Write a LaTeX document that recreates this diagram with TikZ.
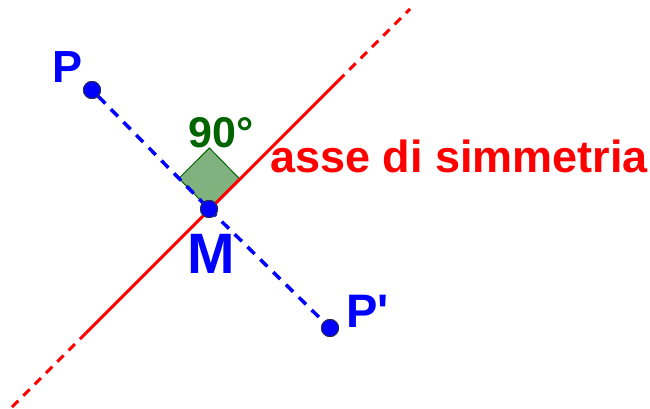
\documentclass[tikz,border=0pt]{standalone}
\usepackage{fontspec}
\usepackage{tikz}
\usepackage{xcolor}
\usetikzlibrary{calc}
\newfontfamily\figfont{Liberation Sans}
\definecolor{ptblue}{RGB}{0,0,255}
\definecolor{axisred}{RGB}{255,0,0}
\definecolor{angdark}{RGB}{0,100,0}
\definecolor{angfill}{RGB}{127,178,127}
\definecolor{dotrim}{RGB}{40,40,90}

\begin{document}
\begin{tikzpicture}[x=1pt, y=-1pt,
  dot/.style={circle, fill=ptblue, draw=dotrim, line width=1pt, minimum size=17pt, inner sep=0pt},
  seg/.style={ptblue, line width=3.5pt, dash pattern=on 10pt off 8pt},
  axisline/.style={axisred, line width=3pt},
  axisdash/.style={axisline, dash pattern=on 9pt off 7pt},
  ptlbl/.style={font=\figfont\bfseries\fontsize{45}{45}\selectfont, text=ptblue, inner sep=0pt, anchor=base west},
  anglbl/.style={font=\figfont\bfseries\fontsize{43}{43}\selectfont, text=angdark, inner sep=0pt, anchor=base west},
  axislbl/.style={font=\figfont\bfseries\fontsize{45}{45}\selectfont, text=axisred, inner sep=0pt, anchor=base west}
]
\useasboundingbox (0,0) rectangle (650,409);

% --- Points ---
\coordinate (m) at (209,209);
\coordinate (p) at (92,90);
\coordinate (pp) at (330,328);

% --- Right angle mark ---
\coordinate (sqa) at ($(m)!43pt!(p)$);
\coordinate (sqb) at ($(m)!43pt!(410,9)$);
\draw[angdark, fill=angfill, line width=1pt] (m) -- (sqa) -- ($(sqa)+(sqb)-(m)$) -- (sqb) -- cycle;

% --- Segment P P' ---
\node[dot] (P) at (p) {};
\node[dot] (M) at (m) {};
\node[dot] (Pp) at (pp) {};
\draw[seg] (P) -- (M.center);
\draw[seg] (M.center) -- (Pp);

% --- Axis of symmetry ---
\coordinate (ax1) at (12,407);
\coordinate (ax2) at (86,333);
\coordinate (ax3) at (338,81);
\coordinate (ax4) at (410,9);
\draw[axisdash] (ax1) -- (ax2);
\draw[axisline] (ax2) -- (ax3);
\draw[axisdash] (ax3) -- (ax4);

% --- Dots on top ---
\node[dot] at (p) {};
\node[dot] at (m) {};
\node[dot] at (pp) {};

% --- Labels ---
\node[ptlbl] (lP) at (52,83) {P};
\node[ptlbl, font=\figfont\bfseries\fontsize{57}{57}\selectfont] (lM) at (187,273) {M};
\node[ptlbl, font=\figfont\bfseries\fontsize{47}{47}\selectfont] (lPp) at (346,327) {P'};
\node[anglbl] (l90) at (188,147) {90°};
\node[axislbl] (lasse) at (270,172) {asse di simmetria};

\end{tikzpicture}
\end{document}
